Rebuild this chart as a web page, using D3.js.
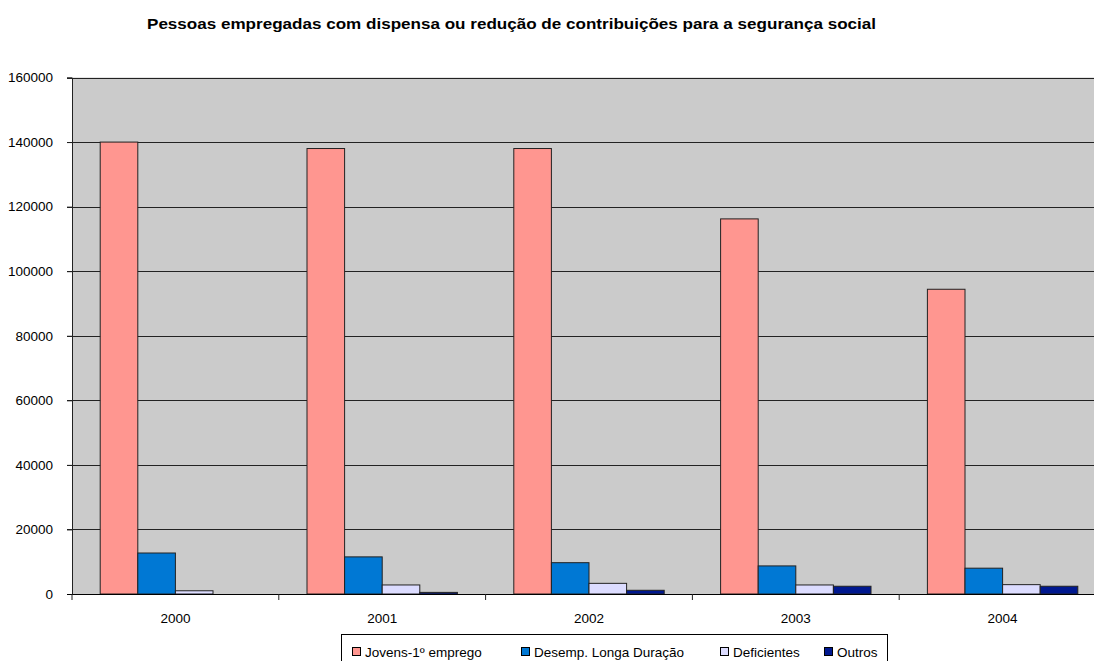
<!DOCTYPE html>
<html><head><meta charset="utf-8">
<script src="https://cdn.jsdelivr.net/npm/d3@7"></script>
<style>html,body{margin:0;padding:0;background:#fff;overflow:hidden}svg{display:block;font-family:"Liberation Sans",Arial,sans-serif}</style>
</head><body>
<script>
const title = "Pessoas empregadas com dispensa ou redução de contribuições para a segurança social";
const years = ["2000","2001","2002","2003","2004"];
const seriesNames = ["Jovens-1º emprego","Desemp. Longa Duração","Deficientes","Outros"];
const jovens = [140000,138000,138000,116200,94400];
const desemp = [12700,11500,9700,8700,8000];
const deficientes = [1000,2800,3300,2800,2900];
const outros = [0,500,1150,2400,2400];
const yTicks = [0,20000,40000,60000,80000,100000,120000,140000,160000];
const colors = ["#ff9690","#0078d4","#dcdcff","#00188f"];

const W=1094,H=661;
const svg=d3.select("body").append("svg").attr("width",W).attr("height",H);
const L=72,R=1106,T=77.5,B=594;
const x=d3.scaleBand().domain(years).range([L,R]).paddingInner(0).paddingOuter(0);
const y=d3.scaleLinear().domain([0,160000]).range([B,T]);
const data=[jovens,desemp,deficientes,outros];

svg.append("text").attr("x",147).attr("y",29)
  .attr("font-size","15.5px").attr("font-weight","bold")
  .attr("textLength",729).attr("lengthAdjust","spacingAndGlyphs").text(title);

svg.append("rect").attr("x",L).attr("y",T).attr("width",R-L).attr("height",B-T).attr("fill","#cbcbcb");

// gridlines
svg.append("g").selectAll("line").data(yTicks.filter(d=>d>0)).join("line")
  .attr("x1",L-5).attr("x2",R).attr("y1",d=>Math.round(y(d))+0.5).attr("y2",d=>Math.round(y(d))+0.5)
  .attr("stroke","#222").attr("stroke-width",1);
// y axis
const ya=svg.append("g").attr("transform",`translate(${L},0)`)
  .call(d3.axisLeft(y).tickValues(yTicks).tickFormat(d3.format("d")).tickSize(5).tickPadding(14));
ya.select(".domain").attr("stroke","#222");
ya.selectAll("line").attr("stroke","#222");
ya.selectAll("text").attr("font-size","13.5px").attr("fill","#000").attr("font-family","Liberation Sans, Arial, sans-serif");

// bars
const bw=x.bandwidth()/5.5;
const off=bw*0.75;
const sub=d3.scaleBand().domain(d3.range(4)).range([0,4*bw]);
data.forEach((arr,si)=>{
  svg.append("g").selectAll("rect").data(arr).join("rect")
    .attr("x",(d,i)=>x(years[i])+off+sub(si))
    .attr("y",d=>y(d)).attr("width",sub.bandwidth()).attr("height",d=>B-y(d))
    .attr("fill",colors[si]).attr("stroke","#222").attr("stroke-width",1)
    .attr("display",d=>d>0?null:"none");
});

// x axis
const xa=svg.append("g").attr("transform",`translate(0,${B})`);
xa.append("line").attr("x1",L-5).attr("x2",R).attr("y1",0.5).attr("y2",0.5).attr("stroke","#000");
xa.selectAll(".tk").data(years.concat(["end"])).join("line").attr("class","tk")
  .attr("x1",(d,i)=>L+i*x.step()).attr("x2",(d,i)=>L+i*x.step()).attr("y1",0).attr("y2",6).attr("stroke","#222");
xa.selectAll("text").data(years).join("text")
  .attr("x",d=>x(d)+x.bandwidth()/2).attr("y",29).attr("text-anchor","middle").attr("font-size","13.5px").text(d=>d);

// legend
const lg=svg.append("g");
lg.append("rect").attr("x",341.5).attr("y",634.5).attr("width",546).attr("height",40).attr("fill","#fff").attr("stroke","#000");
const lx=[352,521,720,824];
seriesNames.forEach((n,i)=>{
  lg.append("rect").attr("x",lx[i]+0.5).attr("y",647.5).attr("width",8).attr("height",8).attr("fill",colors[i]).attr("stroke","#000");
  lg.append("text").attr("x",lx[i]+13).attr("y",657).attr("font-size","13.5px").text(n);
});
</script>
</body></html>
